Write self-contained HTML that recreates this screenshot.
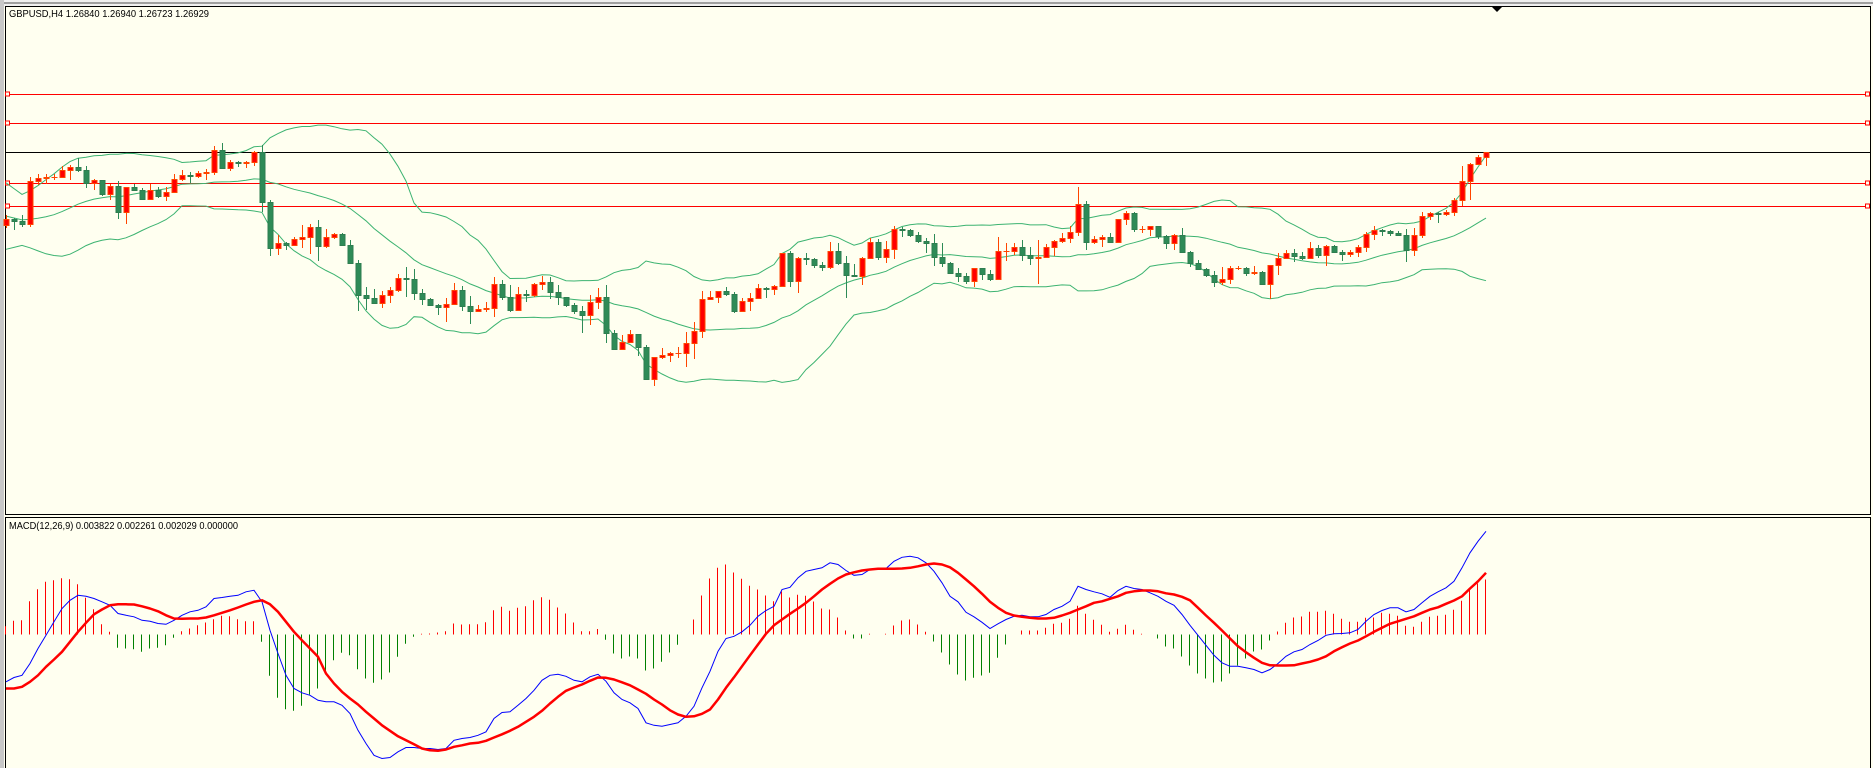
<!DOCTYPE html>
<html><head><meta charset="utf-8"><title>GBPUSD,H4</title>
<style>
html,body{margin:0;padding:0;background:#fffff0;}
svg{display:block;font-family:"Liberation Sans",sans-serif;}
</style></head>
<body>
<svg id="chart" width="1873" height="768" viewBox="0 0 1873 768" xmlns="http://www.w3.org/2000/svg">
  <rect x="0" y="0" width="1873" height="768" fill="#fffff0"/>
  <rect x="0" y="0" width="1873" height="6" fill="#f0f0f0"/>
  <line x1="0" y1="3" x2="1873" y2="3" stroke="#a0a0a0" stroke-width="2"/>
  <rect x="0" y="0" width="4" height="768" fill="#c8c8c8"/>
  <rect x="5.5" y="6.5" width="1865" height="508" fill="#fffff0" stroke="#000" stroke-width="1"/>
  <rect x="5.5" y="517.5" width="1865" height="252" fill="#fffff0" stroke="#000" stroke-width="1"/>
  <g id="levels"></g>
  <g id="bands"></g>
  <g id="candles"></g>
  <g id="macd"></g>
  <polygon points="1492,7 1502,7 1497,12" fill="#000"/>
  <text x="9" y="17" font-size="10" textLength="200" lengthAdjust="spacingAndGlyphs" fill="#000">GBPUSD,H4  1.26840 1.26940 1.26723 1.26929</text>
  <text x="9" y="529" font-size="10" textLength="229" lengthAdjust="spacingAndGlyphs" fill="#000">MACD(12,26,9) 0.003822 0.002261 0.002029 0.000000</text>
</svg>
<script>
// ---- price data (GBPUSD H4) ----
const priorCloses=[1.26780,1.26760,1.26720,1.26700,1.26650,1.26600,1.26540,1.26480,1.26470,1.26500,1.26550,1.26600,1.26640,1.26660,1.26620,1.26580,1.26560,1.26590,1.26600];
const firstOpen=1.26565;
const closes=[1.26595,1.26585,1.26570,1.26785,1.26800,1.26805,1.26805,1.26840,1.26855,1.26840,
1.26775,1.26790,1.26720,1.26760,1.26630,1.26755,1.26740,1.26695,1.26740,1.26710,
1.26730,1.26795,1.26815,1.26810,1.26825,1.26830,1.26940,1.26850,1.26880,1.26875,
1.26880,1.26930,1.26680,1.26450,1.26475,1.26465,1.26495,1.26505,1.26555,1.26460,
1.26505,1.26520,1.26465,1.26375,1.26215,1.26200,1.26175,1.26215,1.26240,1.26300,
1.26295,1.26225,1.26195,1.26165,1.26155,1.26170,1.26240,1.26160,1.26135,1.26145,
1.26150,1.26270,1.26205,1.26140,1.26220,1.26215,1.26270,1.26280,1.26230,1.26205,
1.26165,1.26135,1.26115,1.26180,1.26205,1.26025,1.25945,1.25980,1.26020,1.25955,
1.25795,1.25905,1.25915,1.25925,1.25925,1.25975,1.26035,1.26195,1.26205,1.26235,
1.26220,1.26135,1.26185,1.26200,1.26250,1.26245,1.26260,1.26425,1.26285,1.26400,
1.26395,1.26365,1.26355,1.26435,1.26375,1.26315,1.26310,1.26400,1.26480,1.26405,
1.26445,1.26545,1.26540,1.26515,1.26485,1.26475,1.26405,1.26375,1.26325,1.26310,
1.26285,1.26350,1.26320,1.26295,1.26435,1.26435,1.26455,1.26415,1.26400,1.26405,
1.26455,1.26485,1.26500,1.26530,1.26670,1.26480,1.26495,1.26505,1.26480,1.26595,
1.26625,1.26545,1.26545,1.26560,1.26510,1.26475,1.26515,1.26430,1.26375,1.26345,
1.26315,1.26280,1.26295,1.26350,1.26350,1.26325,1.26330,1.26270,1.26365,1.26400,
1.26425,1.26410,1.26400,1.26450,1.26415,1.26460,1.26430,1.26420,1.26430,1.26455,
1.26520,1.26540,1.26535,1.26525,1.26515,1.26440,1.26515,1.26610,1.26625,1.26620,
1.26630,1.26690,1.26785,1.26870,1.26905,1.26930];
const highs=[1.26615,1.26600,1.26615,1.26805,1.26820,1.26820,1.26820,1.26860,1.26865,1.26900,
1.26860,1.26795,1.26790,1.26770,1.26785,1.26755,1.26770,1.26750,1.26770,1.26755,
1.26755,1.26820,1.26840,1.26830,1.26835,1.26845,1.26960,1.26975,1.26890,1.26885,
1.26885,1.26935,1.26965,1.26690,1.26515,1.26480,1.26505,1.26565,1.26570,1.26590,
1.26545,1.26525,1.26525,1.26490,1.26390,1.26255,1.26245,1.26235,1.26255,1.26320,
1.26355,1.26345,1.26245,1.26200,1.26170,1.26200,1.26275,1.26260,1.26210,1.26165,
1.26180,1.26305,1.26290,1.26265,1.26255,1.26240,1.26275,1.26310,1.26305,1.26265,
1.26205,1.26175,1.26160,1.26215,1.26250,1.26265,1.26040,1.26015,1.26040,1.26020,
1.25965,1.25905,1.25950,1.25930,1.25955,1.26030,1.26080,1.26235,1.26235,1.26235,
1.26255,1.26230,1.26200,1.26225,1.26270,1.26255,1.26265,1.26425,1.26435,1.26405,
1.26425,1.26400,1.26380,1.26480,1.26475,1.26410,1.26370,1.26405,1.26500,1.26495,
1.26485,1.26560,1.26555,1.26545,1.26530,1.26500,1.26520,1.26475,1.26380,1.26350,
1.26325,1.26350,1.26350,1.26340,1.26505,1.26475,1.26475,1.26490,1.26455,1.26490,
1.26470,1.26490,1.26525,1.26560,1.26755,1.26685,1.26510,1.26515,1.26525,1.26595,
1.26635,1.26630,1.26560,1.26560,1.26560,1.26515,1.26520,1.26550,1.26435,1.26390,
1.26350,1.26335,1.26355,1.26360,1.26360,1.26355,1.26360,1.26335,1.26365,1.26425,
1.26440,1.26445,1.26430,1.26480,1.26465,1.26465,1.26465,1.26440,1.26440,1.26465,
1.26530,1.26560,1.26545,1.26540,1.26535,1.26545,1.26550,1.26630,1.26630,1.26630,
1.26640,1.26700,1.26860,1.26875,1.26915,1.26930];
const lows=[1.26550,1.26540,1.26555,1.26555,1.26765,1.26770,1.26790,1.26800,1.26790,1.26830,
1.26750,1.26740,1.26710,1.26690,1.26595,1.26570,1.26740,1.26690,1.26695,1.26700,
1.26685,1.26725,1.26785,1.26775,1.26800,1.26790,1.26815,1.26845,1.26835,1.26855,
1.26850,1.26860,1.26630,1.26410,1.26415,1.26440,1.26460,1.26450,1.26420,1.26385,
1.26450,1.26495,1.26460,1.26370,1.26135,1.26140,1.26175,1.26150,1.26175,1.26230,
1.26205,1.26190,1.26165,1.26165,1.26115,1.26080,1.26170,1.26135,1.26070,1.26130,
1.26130,1.26105,1.26190,1.26130,1.26135,1.26180,1.26205,1.26240,1.26195,1.26165,
1.26155,1.26120,1.26025,1.26065,1.26145,1.25975,1.25945,1.25960,1.25975,1.25910,
1.25790,1.25760,1.25895,1.25880,1.25900,1.25855,1.25895,1.26000,1.26195,1.26175,
1.26210,1.26125,1.26130,1.26135,1.26195,1.26200,1.26215,1.26255,1.26255,1.26225,
1.26365,1.26350,1.26335,1.26345,1.26365,1.26200,1.26310,1.26265,1.26395,1.26390,
1.26375,1.26395,1.26505,1.26505,1.26475,1.26425,1.26360,1.26355,1.26320,1.26280,
1.26270,1.26255,1.26290,1.26285,1.26290,1.26385,1.26415,1.26385,1.26365,1.26270,
1.26400,1.26410,1.26475,1.26475,1.26510,1.26440,1.26470,1.26455,1.26480,1.26475,
1.26565,1.26530,1.26525,1.26510,1.26495,1.26445,1.26440,1.26430,1.26355,1.26340,
1.26305,1.26255,1.26265,1.26270,1.26340,1.26310,1.26315,1.26265,1.26195,1.26315,
1.26395,1.26380,1.26390,1.26400,1.26400,1.26360,1.26425,1.26385,1.26405,1.26405,
1.26430,1.26490,1.26510,1.26510,1.26515,1.26380,1.26410,1.26500,1.26590,1.26575,
1.26610,1.26610,1.26660,1.26690,1.26865,1.26860];
// horizontal levels
const redLevels=[1.27220,1.27075,1.26775,1.26660];
const blackLevel=1.26930;
// ---- MACD data ----
const macdMain=[-0.00189,-0.00172,-0.00163,-0.00116,-0.00056,-0.00003,0.00051,0.00104,0.00137,0.00157,
0.00153,0.00144,0.00131,0.00117,0.00084,0.00077,0.00071,0.00057,0.00053,0.00044,
0.00041,0.00057,0.00077,0.00091,0.00097,0.00111,0.00144,0.00148,0.00153,0.00157,
0.00171,0.00177,0.00131,0.00017,-0.00076,-0.00163,-0.00216,-0.00233,-0.00243,-0.00263,
-0.00269,-0.00269,-0.00283,-0.00316,-0.00383,-0.00436,-0.00483,-0.00496,-0.00492,-0.00469,
-0.00452,-0.00452,-0.00456,-0.00456,-0.00460,-0.00456,-0.00423,-0.00416,-0.00412,-0.00403,
-0.00389,-0.00336,-0.00312,-0.00309,-0.00283,-0.00256,-0.00223,-0.00183,-0.00163,-0.00159,
-0.00167,-0.00183,-0.00189,-0.00169,-0.00159,-0.00187,-0.00233,-0.00260,-0.00273,-0.00296,
-0.00353,-0.00363,-0.00367,-0.00360,-0.00353,-0.00327,-0.00287,-0.00213,-0.00147,-0.00067,
-0.00016,-0.00007,0.00011,0.00037,0.00073,0.00096,0.00113,0.00180,0.00189,0.00227,
0.00253,0.00260,0.00267,0.00287,0.00280,0.00256,0.00237,0.00240,0.00260,0.00260,
0.00264,0.00293,0.00309,0.00313,0.00307,0.00287,0.00253,0.00207,0.00153,0.00131,
0.00089,0.00071,0.00049,0.00024,0.00043,0.00060,0.00073,0.00077,0.00071,0.00071,
0.00080,0.00100,0.00113,0.00133,0.00193,0.00180,0.00171,0.00163,0.00149,0.00176,
0.00193,0.00184,0.00180,0.00167,0.00153,0.00133,0.00117,0.00080,0.00037,-0.00003,
-0.00043,-0.00083,-0.00113,-0.00127,-0.00127,-0.00133,-0.00140,-0.00153,-0.00140,-0.00116,
-0.00087,-0.00069,-0.00060,-0.00040,-0.00024,-0.00003,0.00003,0.00004,0.00007,0.00020,
0.00053,0.00080,0.00096,0.00107,0.00107,0.00091,0.00100,0.00127,0.00153,0.00171,
0.00187,0.00213,0.00267,0.00327,0.00373,0.00413];
const macdSignal=[-0.00216,-0.00216,-0.00209,-0.00189,-0.00163,-0.00129,-0.00100,-0.00069,-0.00029,0.00011,
0.00047,0.00081,0.00100,0.00117,0.00121,0.00121,0.00120,0.00113,0.00104,0.00093,
0.00077,0.00064,0.00063,0.00064,0.00064,0.00068,0.00077,0.00087,0.00097,0.00108,
0.00120,0.00131,0.00137,0.00121,0.00091,0.00051,0.00011,-0.00023,-0.00056,-0.00089,
-0.00156,-0.00196,-0.00229,-0.00256,-0.00280,-0.00309,-0.00336,-0.00363,-0.00385,-0.00407,
-0.00423,-0.00439,-0.00456,-0.00463,-0.00465,-0.00460,-0.00449,-0.00443,-0.00436,-0.00433,
-0.00425,-0.00412,-0.00399,-0.00385,-0.00369,-0.00349,-0.00329,-0.00305,-0.00276,-0.00249,
-0.00225,-0.00212,-0.00200,-0.00185,-0.00172,-0.00173,-0.00180,-0.00191,-0.00203,-0.00220,
-0.00237,-0.00260,-0.00280,-0.00303,-0.00320,-0.00329,-0.00327,-0.00317,-0.00300,-0.00260,
-0.00213,-0.00171,-0.00127,-0.00083,-0.00040,0.00003,0.00037,0.00060,0.00083,0.00104,
0.00127,0.00153,0.00180,0.00203,0.00224,0.00240,0.00249,0.00256,0.00260,0.00263,
0.00263,0.00263,0.00264,0.00267,0.00273,0.00280,0.00284,0.00280,0.00269,0.00247,
0.00220,0.00193,0.00163,0.00131,0.00107,0.00087,0.00076,0.00071,0.00067,0.00064,
0.00064,0.00067,0.00076,0.00087,0.00100,0.00113,0.00127,0.00133,0.00143,0.00153,
0.00167,0.00173,0.00176,0.00176,0.00173,0.00165,0.00160,0.00151,0.00137,0.00107,
0.00076,0.00047,0.00016,-0.00016,-0.00047,-0.00071,-0.00093,-0.00113,-0.00123,-0.00124,
-0.00124,-0.00123,-0.00116,-0.00109,-0.00100,-0.00087,-0.00067,-0.00051,-0.00036,-0.00024,
-0.00007,0.00011,0.00027,0.00043,0.00053,0.00063,0.00073,0.00087,0.00100,0.00109,
0.00123,0.00136,0.00153,0.00184,0.00213,0.00247];
const macdHist=[0.00033,0.00055,0.00057,0.00133,0.00181,0.00211,0.00217,0.00225,0.00221,0.00201,
0.00147,0.00101,0.00041,0.00011,-0.00053,-0.00056,-0.00059,-0.00069,-0.00056,-0.00053,
-0.00043,-0.00013,0.00013,0.00024,0.00037,0.00048,0.00061,0.00075,0.00073,0.00061,
0.00053,0.00053,-0.00029,-0.00165,-0.00253,-0.00299,-0.00305,-0.00285,-0.00240,-0.00216,
-0.00159,-0.00103,-0.00073,-0.00083,-0.00139,-0.00176,-0.00193,-0.00180,-0.00152,-0.00089,
-0.00037,-0.00009,0.00003,0.00004,0.00008,0.00013,0.00044,0.00040,0.00041,0.00041,
0.00049,0.00097,0.00111,0.00095,0.00107,0.00113,0.00137,0.00149,0.00139,0.00108,
0.00084,0.00048,0.00013,0.00013,0.00022,-0.00021,-0.00076,-0.00096,-0.00088,-0.00096,
-0.00144,-0.00136,-0.00109,-0.00072,-0.00041,0,0.00060,0.00156,0.00224,0.00267,
0.00280,0.00248,0.00223,0.00195,0.00180,0.00156,0.00133,0.00172,0.00148,0.00159,
0.00155,0.00132,0.00104,0.00100,0.00068,0.00016,-0.00016,-0.00016,0.00003,0,
0.00003,0.00036,0.00056,0.00060,0.00040,0.00011,-0.00028,-0.00072,-0.00120,-0.00160,
-0.00184,-0.00173,-0.00164,-0.00153,-0.00093,-0.00040,0,0.00016,0.00016,0.00016,
0.00027,0.00043,0.00047,0.00063,0.00115,0.00083,0.00059,0.00039,0.00011,0.00023,
0.00039,0.00019,0.00003,0,-0.00016,-0.00048,-0.00056,-0.00088,-0.00124,-0.00156,
-0.00176,-0.00192,-0.00188,-0.00156,-0.00124,-0.00096,-0.00068,-0.00060,-0.00024,0.00012,
0.00047,0.00068,0.00072,0.00091,0.00091,0.00095,0.00083,0.00063,0.00051,0.00051,
0.00067,0.00068,0.00087,0.00083,0.00075,0.00035,0.00031,0.00051,0.00071,0.00075,
0.00079,0.00099,0.00135,0.00179,0.00204,0.00220];

// ---- axis functions ----
const NS='http://www.w3.org/2000/svg';
const X0=6, STEP=8;
function xAt(i){return X0+STEP*i;}
function yPrice(p){return (1.27690-p)*20000;}
const MACD_ZERO=634.5;
function yMacd(v){return MACD_ZERO-v*25000;}
function mk(tag,attrs,parent){const e=document.createElementNS(NS,tag);for(const k in attrs)e.setAttribute(k,attrs[k]);parent.appendChild(e);return e;}

// levels
const gl=document.getElementById('levels');
redLevels.forEach((p,k)=>{
  const y=Math.round(yPrice(p))+0.5;
  const ln=mk('line',{x1:6,x2:1870,y1:y,y2:y,stroke:'#ff0000','stroke-width':1},gl);
  
  
  const s1=mk('rect',{x:5.5,y:y-2.5,width:4,height:4,fill:'#fffff0',stroke:'#ff0000'},gl);
  
  
  const s2=mk('rect',{x:1865.5,y:y-2.5,width:4,height:4,fill:'#fffff0',stroke:'#ff0000'},gl);
  
  
});
{
  const y=Math.round(yPrice(blackLevel))+0.5;
  const ln=mk('line',{x1:6,x2:1870,y1:y,y2:y,stroke:'#000','stroke-width':1},gl);
  
  
}

// bollinger bands from closes
const all=priorCloses.concat(closes);
const P=priorCloses.length;
let up='',mid='',lo='';
for(let i=0;i<closes.length;i++){
  const w=all.slice(i+P-19,i+P+1);
  const m=w.reduce((a,b)=>a+b,0)/w.length;
  const sd=Math.sqrt(w.reduce((a,b)=>a+(b-m)*(b-m),0)/w.length);
  const x=xAt(i);
  up+=(i?'L':'M')+x+','+yPrice(m+2*sd).toFixed(1);
  mid+=(i?'L':'M')+x+','+yPrice(m).toFixed(1);
  lo+=(i?'L':'M')+x+','+yPrice(m-2*sd).toFixed(1);
}
const gb=document.getElementById('bands');
[['bollinger-upper',up],['bollinger-middle',mid],['bollinger-lower',lo]].forEach(([n,d])=>{
  const p=mk('path',{d:d,fill:'none',stroke:'#3cb371','stroke-width':1},gb);
  
  
});

// candles
const gc=document.getElementById('candles');
for(let i=0;i<closes.length;i++){
  const o=i?closes[i-1]:firstOpen, c=closes[i];
  const h=Math.max(highs[i],o,c), l=Math.min(lows[i],o,c);
  const bull=c>=o;
  const x=xAt(i)+0.5;
  const g=mk('g',{},gc);
  
  
  mk('line',{x1:x,x2:x,y1:yPrice(h),y2:yPrice(l),stroke:bull?'#ff4500':'#2e8b57','stroke-width':1},g);
  const yt=Math.round(yPrice(Math.max(o,c))), yb=Math.round(yPrice(Math.min(o,c)));
  if(yb-yt<1){
    mk('line',{x1:x-3,x2:x+3,y1:yt+0.5,y2:yt+0.5,stroke:bull?'#ff4500':'#228b22','stroke-width':1},g);
  } else {
    mk('rect',{x:x-2.5,y:yt+0.5,width:5,height:yb-yt,fill:bull?'#ff0000':'#2e8b57',stroke:bull?'#ff4500':'#2e7d4f','stroke-width':1},g);
  }
}

// MACD
const gm=document.getElementById('macd');
for(let i=0;i<macdHist.length;i++){
  const v=macdHist[i]; if(v===0) continue;
  const x=xAt(i)-0.5;
  const b=mk('line',{x1:x,x2:x,y1:MACD_ZERO,y2:yMacd(v),stroke:v>0?'#ff0000':'#008000','stroke-width':1},gm);
  
  
}
let dm='',ds='';
for(let i=0;i<macdMain.length;i++){dm+=(i?'L':'M')+xAt(i)+','+yMacd(macdMain[i]).toFixed(1);}
for(let i=0;i<macdSignal.length;i++){ds+=(i?'L':'M')+xAt(i)+','+yMacd(macdSignal[i]).toFixed(1);}
const pm=mk('path',{d:dm,fill:'none',stroke:'#0000ff','stroke-width':1},gm);


const ps=mk('path',{d:ds,fill:'none',stroke:'#ff0000','stroke-width':2.5,'stroke-linejoin':'round'},gm);


</script>
</body></html>
